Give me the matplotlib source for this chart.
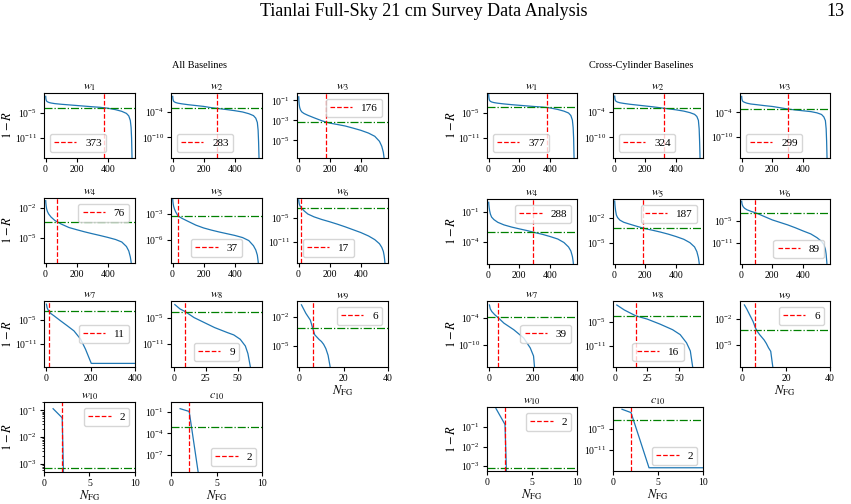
import numpy as np
import matplotlib

matplotlib.use("Agg")
import matplotlib.pyplot as plt

plt.rcParams["font.family"] = "serif"
plt.rcParams["font.serif"] = ["Liberation Serif", "DejaVu Serif"]
plt.rcParams["mathtext.fontset"] = "stix"

# --- page / panel text ---
PAGE_TITLE = "Tianlai Full-Sky 21 cm Survey Data Analysis"
PAGE_NUMBER = "13"
GROUP_TITLES = ["All Baselines", "Cross-Cylinder Baselines"]
PANEL_TITLES = [r"$w_{%d}$" % i for i in range(1, 11)] + [r"$c_{10}$"]

# --- data: N_FG and log10(1 - R) ---
N_SMOOTH = [1, 2, 4, 7, 12, 20, 35, 60, 100, 150, 200, 250, 300, 350, 400,
            450, 490, 520, 535, 545, 550, 553, 556]

ALL_W1 = [-1.0, -1.5, -1.9, -2.15, -2.3, -2.45, -2.6, -2.75, -2.9, -3.05, -3.2, -3.35,
          -3.5, -3.63, -3.85, -4.2, -4.6, -5.1, -5.7, -6.8, -8.5, -11.0, -16.0]
ALL_W2 = [-0.4, -0.9, -1.3, -1.55, -1.7, -1.85, -2.0, -2.15, -2.35, -2.55, -2.75, -3.05,
          -3.28, -3.5, -3.75, -4.05, -4.45, -4.9, -5.5, -6.5, -8.3, -11.0, -15.0]
ALL_W3 = [-0.65, -1.0, -1.4, -1.7, -1.95, -2.15, -2.32, -2.5, -2.75, -3.05, -3.28, -3.42,
          -3.57, -3.78, -4.0, -4.28, -4.6, -5.1, -5.6, -6.2, -6.8, -7.5, -9.0]
ALL_W4 = [-1.27, -1.5, -1.8, -2.1, -2.35, -2.6, -2.9, -3.25, -3.6, -3.95, -4.17, -4.38,
          -4.57, -4.75, -4.94, -5.15, -5.4, -5.85, -6.3, -6.9, -7.4, -8.0, -9.0]
ALL_W5 = [-1.3, -1.5, -1.8, -2.1, -2.4, -2.75, -3.22, -3.5, -3.86, -4.3, -4.63, -4.88,
          -5.1, -5.3, -5.5, -5.75, -6.1, -6.7, -7.2, -7.8, -8.5, -9.2, -10.0]
ALL_W6 = [-0.6, -1.0, -1.5, -1.9, -2.25, -2.65, -3.3, -4.1, -4.8, -5.45, -6.0, -6.6,
          -7.25, -7.95, -8.65, -9.5, -10.4, -11.4, -12.3, -13.3, -14.3, -15.2, -16.5]
ALL_W7_N = [1, 4, 11, 20, 35, 65, 95, 125, 155, 177, 192, 203, 250, 300, 350, 400]
ALL_W7 = [-1.0, -1.9, -2.7, -3.3, -3.9, -5.17, -6.4, -7.67, -9.75, -12.25, -14.3,
          -15.8, -15.8, -15.8, -15.8, -15.8]
ALL_W8_N = [1, 5, 9, 16, 24, 32, 42, 47, 52, 56, 58, 60]
ALL_W8 = [-2.0, -3.0, -3.6, -5.0, -6.15, -7.3, -8.46, -9.0, -10.0, -11.55, -13.3, -16.5]
W9_N = [1, 2, 3, 4, 5, 6, 7, 8, 9, 10, 11, 12, 13, 14]
ALL_W9 = [-0.7, -1.15, -1.6, -1.95, -2.3, -3.1, -3.85, -4.1, -4.35, -4.55, -4.85,
          -5.3, -6.0, -7.3]
FEW_N = [1, 2, 3]
ALL_W10 = [-0.94, -1.28, -16.0]
ALL_C10 = [-0.53, -0.92, -9.6]

CROSS_W1 = [-0.6, -1.2, -1.7, -2.0, -2.2, -2.35, -2.5, -2.65, -2.82, -3.0, -3.15, -3.3,
            -3.45, -3.58, -3.78, -4.15, -4.55, -5.0, -5.6, -6.7, -8.5, -11.0, -16.0]
CROSS_W2 = [-0.35, -0.8, -1.2, -1.45, -1.6, -1.75, -1.9, -2.05, -2.25, -2.45, -2.65, -2.85,
            -3.08, -3.32, -3.55, -3.85, -4.2, -4.6, -5.1, -6.0, -8.0, -11.0, -15.0]
CROSS_W3 = [-0.1, -0.6, -1.0, -1.25, -1.4, -1.55, -1.75, -1.95, -2.12, -2.35, -2.55, -2.85,
            -3.17, -3.4, -3.6, -3.8, -4.1, -4.5, -5.1, -6.0, -8.0, -11.0, -15.5]
CROSS_W4 = [-0.06, -0.3, -0.58, -0.9, -1.25, -1.55, -1.8, -2.07, -2.33, -2.55, -2.73, -2.9,
            -3.1, -3.28, -3.5, -3.75, -4.1, -4.55, -4.95, -5.5, -6.0, -6.5, -7.0]
CROSS_W5 = [-0.05, -0.35, -0.75, -1.2, -1.7, -2.0, -2.3, -2.55, -2.78, -3.05, -3.3, -3.5,
            -3.71, -3.95, -4.23, -4.55, -4.95, -5.45, -6.0, -6.7, -7.3, -8.0, -9.0]
CROSS_W6 = [0.3, -0.1, -0.55, -0.9, -1.25, -1.6, -2.0, -2.4, -2.95, -3.85, -4.73, -5.4,
            -6.07, -6.85, -7.7, -8.5, -9.5, -10.5, -11.4, -12.6, -14.0, -15.5, -17.0]
CROSS_W7_N = [1, 5, 12, 25, 39, 67, 112, 157, 187, 202, 208]
CROSS_W7 = [-1.0, -1.9, -2.5, -3.2, -3.8, -5.13, -6.63, -8.5, -10.76, -12.6, -16.0]
CROSS_W8_N = [1, 7, 16, 25, 35, 45, 51, 56, 59, 61]
CROSS_W8 = [-0.75, -2.0, -3.45, -4.26, -5.5, -6.9, -8.13, -10.17, -12.2, -16.5]
CROSS_W9 = [-0.37, -0.8, -1.3, -1.8, -2.3, -3.0, -3.45, -3.8, -4.1, -4.4, -4.8,
            -5.3, -5.7, -7.6]
CROSS_W10 = [-0.04, -0.86, -16.0]
CROSS_C10_N = [1, 2, 3, 4, 5, 6, 7, 8, 9, 10]
CROSS_C10 = [0.35, -0.57, -8.2, -15.9, -15.9, -15.9, -15.9, -15.9, -15.9, -15.9]

# chosen N_FG (red) and log10 threshold (green)
ALL_NCUT = [373, 283, 176, 76, 37, 17, 11, 9, 6, 2, 2]
CROSS_NCUT = [377, 324, 299, 288, 187, 89, 39, 16, 6, 2, 2]
ALL_THRESH = [-3.7, -3.2, -3.2, -3.4, -3.28, -2.5, -2.67, -3.6, -3.15, -3.15, -3.1]
CROSS_THRESH = [-3.66, -3.2, -3.17, -3.06, -3.24, -2.77, -3.77, -3.45, -3.22, -3.09, -2.5]

ALL_N = [N_SMOOTH] * 6 + [ALL_W7_N, ALL_W8_N, W9_N, FEW_N, FEW_N]
ALL_LOG = [ALL_W1, ALL_W2, ALL_W3, ALL_W4, ALL_W5, ALL_W6, ALL_W7, ALL_W8, ALL_W9,
           ALL_W10, ALL_C10]
CROSS_N = [N_SMOOTH] * 6 + [CROSS_W7_N, CROSS_W8_N, W9_N, FEW_N, CROSS_C10_N]
CROSS_LOG = [CROSS_W1, CROSS_W2, CROSS_W3, CROSS_W4, CROSS_W5, CROSS_W6, CROSS_W7,
             CROSS_W8, CROSS_W9, CROSS_W10, CROSS_C10]

# --- axis settings (log10 limits / tick exponents) ---
ALL_YLIM = [(-15.8, -0.2), (-14.8, 0.38), (-6.77, -0.27), (-7.5, -1.0), (-8.72, -1.13),
            (-16.15, -0.15), (-16.7, -0.2), (-16.4, -1.17), (-7.23, -0.3), (-3.3, -0.69),
            (-9.45, 0.41)]
CROSS_YLIM = [(-15.8, -0.2), (-14.8, 0.38), (-15.1, 0.73), (-6.26, 0.27), (-7.46, 0.19),
              (-16.6, 0.9), (-15.1, -0.1), (-16.2, 0.25), (-7.5, 0.08), (-3.26, 0.04),
              (-16.8, 0.98)]
ALL_YTICKS = [[-5, -11], [-4, -10], [-1, -3, -5], [-2, -5], [-3, -6], [-5, -11],
              [-5, -11], [-5, -11], [-2, -5], [-1, -2, -3], [-1, -4, -7]]
CROSS_YTICKS = [[-5, -11], [-4, -10], [-4, -10], [-1, -4], [-2, -5], [-5, -11],
                [-4, -10], [-5, -11], [-2, -5], [-1, -2, -3], [-5, -11]]
XLIMS = [(-10, 575)] * 6 + [(-10, 400), (-2, 69), (-1, 40), (0, 10), (0, 10)]
XTICKS = [[0, 200, 400]] * 7 + [[0, 25, 50], [0, 20, 40], [0, 5, 10], [0, 5, 10]]
ALL_LOCS = ["lower left", "lower left", "upper right", "upper right", "lower center",
            "lower left", "center right", "lower center", "upper right", "upper right",
            "lower right"]
CROSS_LOCS = ["lower left", "lower left", "lower left", "upper right", "upper right",
              "lower right", "center right", "lower center", "upper right", "upper right",
              "lower right"]

# --- layout in pixels ---
FIG_W, FIG_H = 851, 504
COLS = [[(44, 135), (171, 262), (297, 388)], [(487, 577), (613, 703), (740, 830)]]
ROWS = [[(93, 158), (198, 263), (301, 367), (402, 472)],
        [(93, 158), (199, 264), (301, 367), (407, 471)]]
SLOTS = [(0, 0), (0, 1), (0, 2), (1, 0), (1, 1), (1, 2), (2, 0), (2, 1), (2, 2), (3, 0), (3, 1)]
YLABEL_X = [14, 458]  # right edge of the rotated "1 - R" label, px


def draw_group(fig, g, ns, logs, cuts, thresh, ylims, yticks, locs):
    for i, (r, c) in enumerate(SLOTS):
        x0, x1 = COLS[g][c]
        y0, y1 = ROWS[g][r]
        ax = fig.add_axes([x0 / FIG_W, 1 - y1 / FIG_H, (x1 - x0) / FIG_W, (y1 - y0) / FIG_H])
        ax.plot(ns[i], 10.0 ** np.asarray(logs[i]), color="C0", lw=0.9)
        ax.axhline(10.0 ** thresh[i], color="g", ls="-.", lw=0.9)
        ax.axvline(cuts[i], color="r", ls="--", lw=0.9, label=str(cuts[i]))
        ax.set_yscale("log")
        ax.set_ylim(10.0 ** ylims[i][0], 10.0 ** ylims[i][1])
        ax.set_yticks([10.0 ** e for e in yticks[i]])
        ax.set_xlim(*XLIMS[i])
        ax.set_xticks(XTICKS[i])
        ax.set_title(PANEL_TITLES[i], fontsize=8.5, pad=2)
        ax.tick_params(labelsize=7, length=3, pad=2)
        ax.tick_params(which="minor", length=1.5)
        ax.legend(loc=locs[i], fontsize=8)
        if c == 0:
            ax.set_ylabel(r"$1-R$", fontsize=9)
            ax.yaxis.set_label_coords((YLABEL_X[g] - x0) / (x1 - x0), 0.5)
        if i >= 8:
            ax.set_xlabel(r"$N_{\rm FG}$", fontsize=9, labelpad=0)


def main() -> None:
    fig = plt.figure(figsize=(FIG_W / 100, FIG_H / 100), dpi=100)

    fig.text(424 / FIG_W, 1 - 12 / FIG_H, PAGE_TITLE, ha="center", va="center", fontsize=13)
    fig.text(835 / FIG_W, 1 - 12 / FIG_H, PAGE_NUMBER, ha="center", va="center", fontsize=13)
    fig.text(200 / FIG_W, 1 - 66 / FIG_H, GROUP_TITLES[0], ha="center", va="center", fontsize=7.4)
    fig.text(641 / FIG_W, 1 - 66 / FIG_H, GROUP_TITLES[1], ha="center", va="center", fontsize=7.4)

    draw_group(fig, 0, ALL_N, ALL_LOG, ALL_NCUT, ALL_THRESH, ALL_YLIM, ALL_YTICKS, ALL_LOCS)
    draw_group(fig, 1, CROSS_N, CROSS_LOG, CROSS_NCUT, CROSS_THRESH, CROSS_YLIM,
               CROSS_YTICKS, CROSS_LOCS)

    fig.savefig("out.png", dpi=100)


if __name__ == "__main__":
    main()
